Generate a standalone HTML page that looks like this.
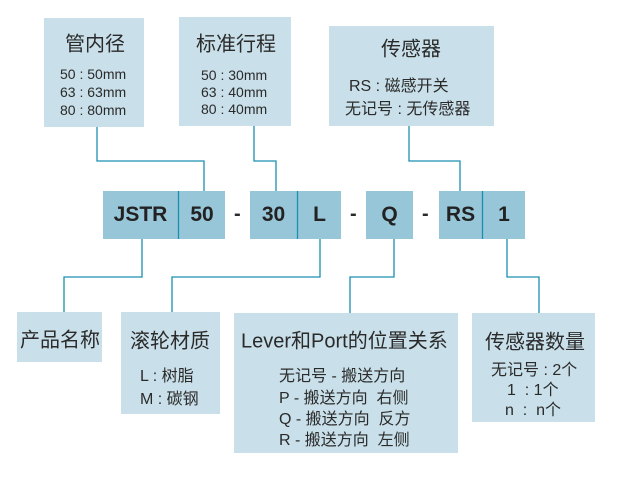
<!DOCTYPE html>
<html><head><meta charset="utf-8"><style>
body{margin:0;width:624px;height:494px;background:#fff;position:relative;overflow:hidden;font-family:"Liberation Sans","Noto Sans CJK SC",sans-serif;color:#2a2a2a}
.b{position:absolute;background:#c9e0ea}
.c{position:absolute;background:#98c6d9;font-weight:bold;font-size:21px;color:#222;text-align:center;line-height:48px;top:191px;height:48px}
.t{position:absolute;white-space:nowrap;transform:translateY(-50%)}
.h{font-size:20px}
.s{font-size:14px}
.m{font-size:16px}
.d{position:absolute;font-weight:bold;font-size:20px;top:203px}
</style></head><body>
<div class="b" style="left:44px;top:18px;width:100px;height:109px"></div>
<div class="b" style="left:179px;top:17px;width:112px;height:109px"></div>
<div class="b" style="left:329px;top:26px;width:165px;height:100px"></div>
<div class="b" style="left:17px;top:312px;width:85px;height:50px"></div>
<div class="b" style="left:121px;top:312px;width:99px;height:102px"></div>
<div class="b" style="left:234px;top:313px;width:224px;height:140px"></div>
<div class="b" style="left:472px;top:313px;width:123px;height:109px"></div>

<div class="c" style="left:103px;width:75px">JSTR</div>
<div class="c" style="left:179px;width:46px">50</div>
<div class="c" style="left:250px;width:47px">30</div>
<div class="c" style="left:298px;width:43px">L</div>
<div class="c" style="left:366px;width:47px">Q</div>
<div class="c" style="left:439px;width:43px">RS</div>
<div class="c" style="left:483px;width:42px">1</div>
<div class="d" style="left:234px">-</div>
<div class="d" style="left:350px">-</div>
<div class="d" style="left:422px">-</div>

<svg style="position:absolute;left:0;top:0" width="624" height="494">
<g fill="none" stroke="#1a8fb0" stroke-width="1.3">
<polyline points="97,127 97,161 204,161 204,191"/>
<polyline points="254,126 254,161 276,161 276,191"/>
<polyline points="409,126 409,161 460,161 460,191"/>
<polyline points="142,239 142,277 64,277 64,312"/>
<polyline points="320,239 320,277 172,277 172,312"/>
<polyline points="394,239 394,277 350,277 350,313"/>
<polyline points="507,239 507,277 539,277 539,313"/>
<line x1="178.5" y1="191" x2="178.5" y2="239"/>
<line x1="297.5" y1="191" x2="297.5" y2="239"/>
<line x1="482.5" y1="191" x2="482.5" y2="239"/>
</g></svg>

<div class="t h" style="left:65px;top:42px">管内径</div>
<div class="t s" style="left:60px;top:74px">50 : 50mm</div>
<div class="t s" style="left:60px;top:92px">63 : 63mm</div>
<div class="t s" style="left:60px;top:110px">80 : 80mm</div>

<div class="t h" style="left:196px;top:42px">标准行程</div>
<div class="t s" style="left:201px;top:75px">50 : 30mm</div>
<div class="t s" style="left:201px;top:92px">63 : 40mm</div>
<div class="t s" style="left:201px;top:109px">80 : 40mm</div>

<div class="t h" style="left:381px;top:47px">传感器</div>
<div class="t m" style="left:349px;top:84px">RS : 磁感开关</div>
<div class="t m" style="left:345px;top:107px">无记号 : 无传感器</div>

<div class="t h" style="left:20px;top:338px">产品名称</div>
<div class="t h" style="left:130px;top:339px">滚轮材质</div>
<div class="t m" style="left:140px;top:374px">L : 树脂</div>
<div class="t m" style="left:140px;top:397px">M : 碳钢</div>

<div class="t h" style="left:241px;top:339px">Lever和Port的位置关系</div>
<div class="t m" style="left:279px;top:374px">无记号 - 搬送方向</div>
<div class="t m" style="left:279px;top:396px">P - 搬送方向&nbsp; 右侧</div>
<div class="t m" style="left:279px;top:417px">Q - 搬送方向&nbsp; 反方</div>
<div class="t m" style="left:279px;top:438px">R - 搬送方向&nbsp; 左侧</div>

<div class="t h" style="left:485px;top:340px">传感器数量</div>
<div class="t m" style="left:491px;top:368px">无记号 : 2个</div>
<div class="t m" style="left:507px;top:388px">1&nbsp; : 1个</div>
<div class="t m" style="left:505px;top:408px">n&nbsp; :&nbsp; n个</div>
</body></html>
